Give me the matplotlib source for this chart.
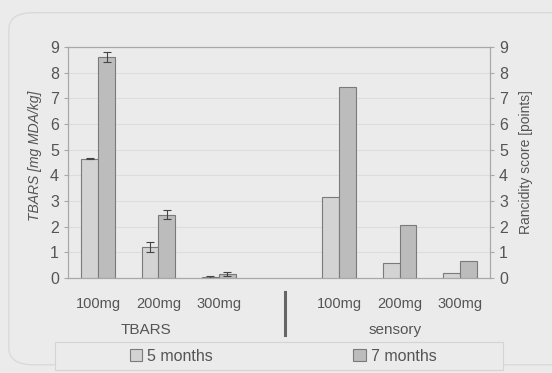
import numpy as np
import matplotlib.pyplot as plt
from matplotlib.patches import FancyBboxPatch, Patch, Rectangle

plt.rcParams['font.family'] = ['Liberation Sans', 'DejaVu Sans']

# 两组指标：TBARS 与感官评分
doses = ["100mg", "200mg", "300mg"]
tbars_5m = [4.65, 1.20, 0.03]
tbars_5m_err = [0.03, 0.20, 0.05]
tbars_7m = [8.60, 2.47, 0.14]
tbars_7m_err = [0.20, 0.16, 0.08]
sens_5m = [3.15, 0.57, 0.18]
sens_7m = [7.45, 2.08, 0.66]
y_ticks = list(range(10))

bg = "#ebebeb"
c5 = "#d3d3d3"
c7 = "#bcbcbc"
edge = "#7a7a7a"
txt = "#555555"

fig = plt.figure(figsize=(5.52, 3.73), dpi=100)
fig.patch.set_facecolor(bg)

# 外框
frame = FancyBboxPatch((0.016, 0.022), 1.2, 0.944, boxstyle="round,pad=0,rounding_size=0.045",
                       transform=fig.transFigure, fc="none", ec="#dadada", lw=1.0)
fig.patches.append(frame)

ax = fig.add_axes([0.1232, 0.2547, 0.7645, 0.6193])
ax.set_facecolor(bg)
ax.set_xlim(0, 7)
ax.set_ylim(0, 9)

w = 0.28
pos_t = np.arange(3) + 0.5
pos_s = np.arange(3) + 4.5

ekw = dict(ecolor="#444444", elinewidth=0.8, capthick=0.8)
ax.bar(pos_t - w / 2, tbars_5m, w, color=c5, edgecolor=edge, lw=0.8, zorder=3,
       yerr=tbars_5m_err, capsize=3, error_kw=ekw)
ax.bar(pos_t + w / 2, tbars_7m, w, color=c7, edgecolor=edge, lw=0.8, zorder=3,
       yerr=tbars_7m_err, capsize=3, error_kw=ekw)

ax2 = ax.twinx()
ax2.set_ylim(0, 9)
ax2.bar(pos_s - w / 2, sens_5m, w, color=c5, edgecolor=edge, lw=0.8, zorder=3)
ax2.bar(pos_s + w / 2, sens_7m, w, color=c7, edgecolor=edge, lw=0.8, zorder=3)

ax.set_yticks(y_ticks)
ax2.set_yticks(y_ticks)
ax.grid(axis="y", color="#dcdcdc", lw=0.8, zorder=0)
ax.set_axisbelow(True)
ax.set_xticks(list(pos_t) + list(pos_s))
ax.set_xticklabels(doses + doses)

for a in (ax, ax2):
    for s in a.spines.values():
        s.set_color("#a8a8a8")
        s.set_linewidth(0.8)
    a.tick_params(colors=txt, labelsize=11.5, length=3, width=0.8)
    a.tick_params(axis="y", colors="#a8a8a8", labelcolor=txt)
ax.tick_params(axis="x", length=0, pad=14, labelcolor=txt, labelsize=10.5)

ax.set_ylabel("TBARS [mg MDA/kg]", color=txt, fontsize=10, style="italic")
ax.yaxis.set_label_coords(-0.062, 0.53)
ax2.set_ylabel("Rancidity score [points]", color=txt, fontsize=10, labelpad=8)

fig.text(0.264, 0.115, "TBARS", color=txt, fontsize=11, ha="center", va="center")
fig.text(0.716, 0.115, "sensory", color=txt, fontsize=11, ha="center", va="center")
fig.add_artist(plt.Line2D([0.516, 0.516], [0.102, 0.217], transform=fig.transFigure,
                          color="#666666", lw=2.2))

# 图例框
fig.patches.append(Rectangle((0.1, 0.008), 0.811, 0.075, transform=fig.transFigure,
                             fc=bg, ec="#d4d4d4", lw=0.8))
handles = [Patch(fc=c5, ec=edge, lw=0.8, label="5 months"),
           Patch(fc=c7, ec=edge, lw=0.8, label="7 months")]
leg = fig.legend(handles=handles, ncol=2, loc="center", bbox_to_anchor=(0.513, 0.045),
                 frameon=False, fontsize=11.5, handlelength=0.8,
                 handleheight=0.8, handletextpad=0.3, columnspacing=8.8,
                 labelcolor=txt)

fig.savefig("out.png", dpi=100, facecolor=bg)
